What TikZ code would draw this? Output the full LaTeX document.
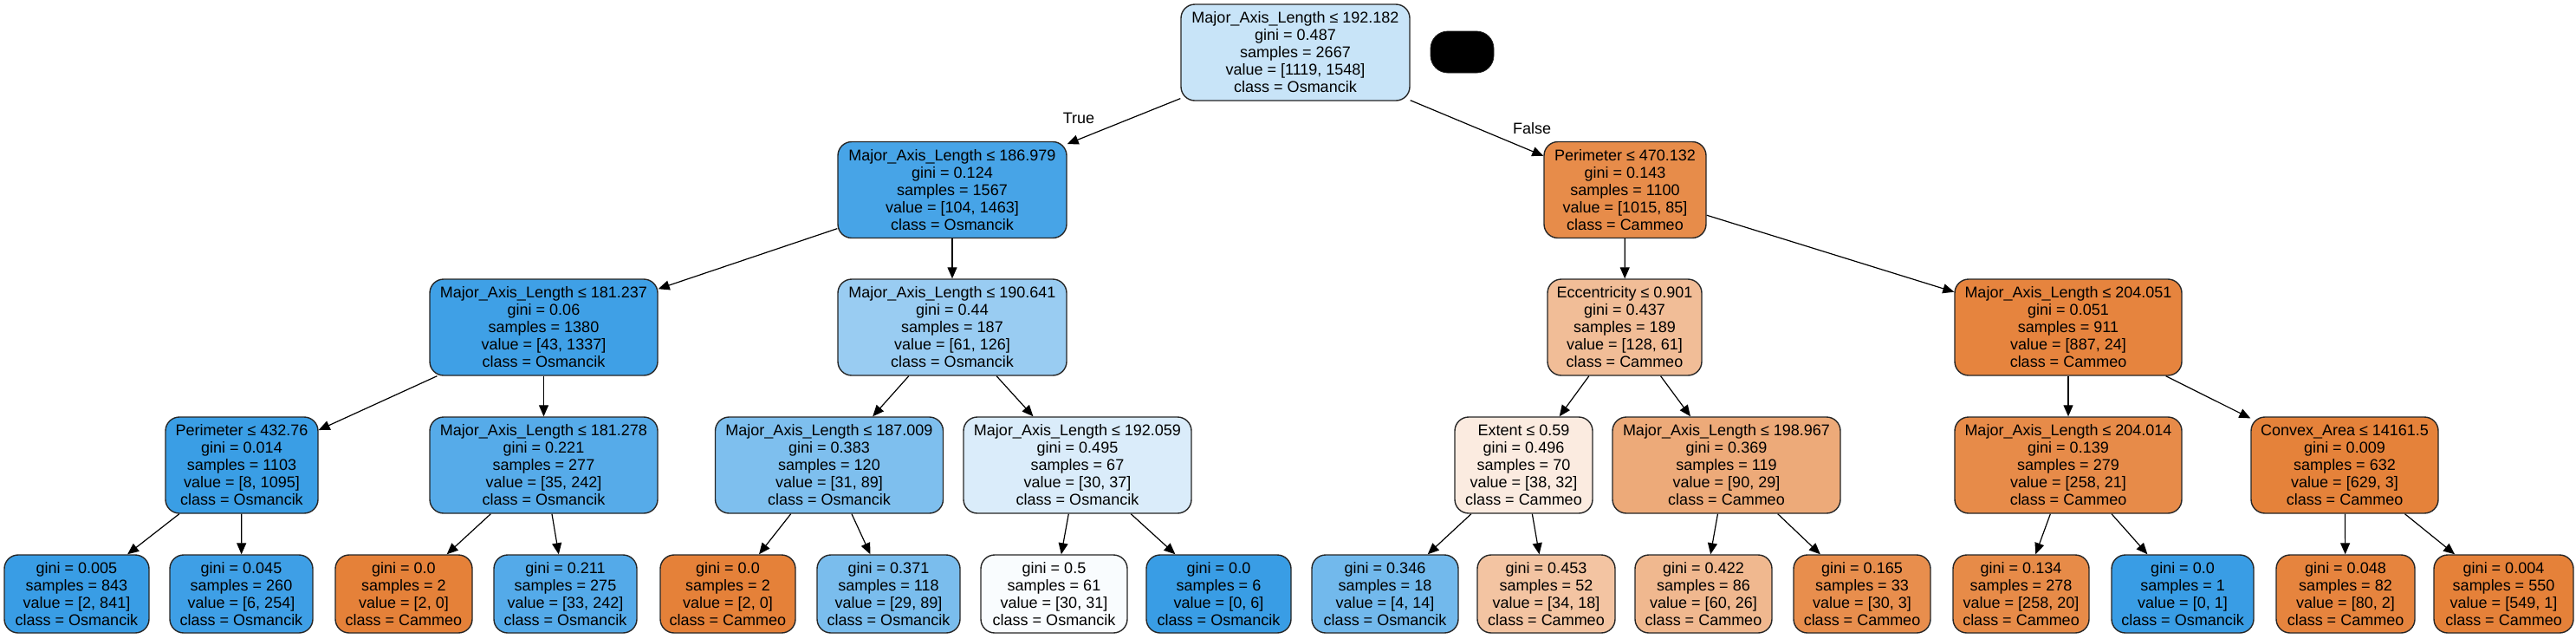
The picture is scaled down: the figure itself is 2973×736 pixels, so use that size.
\documentclass[tikz,border=0pt]{standalone}
\usepackage{fontspec}
\setmainfont{Liberation Sans}
\usetikzlibrary{arrows.meta}
\definecolor{cblue}{HTML}{399DE5}
\definecolor{corange}{HTML}{E58139}
\begin{document}
\begin{tikzpicture}[x=0.5pt,y=-0.5pt,
 tn/.style={draw=black!85, line width=0.7pt, rounded corners=8pt, align=center, inner xsep=2pt, inner ysep=0pt, font=\fontsize{9pt}{10pt}\selectfont, minimum height=55.5pt},
 lf/.style={tn, minimum height=45pt},
 wd/.style={minimum width=0.5pt*#1},
 edge/.style={-{Triangle[length=6.5pt,width=5.5pt]}, line width=0.6pt},
 lbl/.style={font=\fontsize{9pt}{10pt}\selectfont, inner sep=0pt}]
\useasboundingbox (0,0) rectangle (2973,736);
% root
\node[tn, wd=264, fill=cblue!27.7] (n0) at (1495,60.5) {Major\_Axis\_Length ≤ 192.182\\gini = 0.487\\samples = 2667\\value = [1119, 1548]\\class = Osmancik};
\node[fill=black, draw=black!85, rounded corners=10pt, minimum width=36.5pt, minimum height=24pt, inner sep=0pt] (blk) at (1687.5,60) {};
% level 1
\node[tn, wd=264, fill=cblue!92.9] (n1) at (1099,219) {Major\_Axis\_Length ≤ 186.979\\gini = 0.124\\samples = 1567\\value = [104, 1463]\\class = Osmancik};
\node[tn, wd=187, fill=corange!91.6] (n2) at (1875.5,219) {Perimeter ≤ 470.132\\gini = 0.143\\samples = 1100\\value = [1015, 85]\\class = Cammeo};
% level 2
\node[tn, wd=263, fill=cblue!96.8] (a) at (627.5,377.5) {Major\_Axis\_Length ≤ 181.237\\gini = 0.06\\samples = 1380\\value = [43, 1337]\\class = Osmancik};
\node[tn, wd=264, fill=cblue!51.6] (b) at (1099,377.5) {Major\_Axis\_Length ≤ 190.641\\gini = 0.44\\samples = 187\\value = [61, 126]\\class = Osmancik};
\node[tn, wd=178, fill=corange!52.3] (c) at (1875,377.5) {Eccentricity ≤ 0.901\\gini = 0.437\\samples = 189\\value = [128, 61]\\class = Cammeo};
\node[tn, wd=262, fill=corange!97.3] (d) at (2387,377.5) {Major\_Axis\_Length ≤ 204.051\\gini = 0.051\\samples = 911\\value = [887, 24]\\class = Cammeo};
% level 3
\node[tn, wd=176, fill=cblue!99.3] (a1) at (279,536.5) {Perimeter ≤ 432.76\\gini = 0.014\\samples = 1103\\value = [8, 1095]\\class = Osmancik};
\node[tn, wd=263, fill=cblue!85.5] (a2) at (627.5,536.5) {Major\_Axis\_Length ≤ 181.278\\gini = 0.221\\samples = 277\\value = [35, 242]\\class = Osmancik};
\node[tn, wd=263, fill=cblue!65.2] (b1) at (957,536.5) {Major\_Axis\_Length ≤ 187.009\\gini = 0.383\\samples = 120\\value = [31, 89]\\class = Osmancik};
\node[tn, wd=263, fill=cblue!18.9] (b2) at (1243.5,536.5) {Major\_Axis\_Length ≤ 192.059\\gini = 0.495\\samples = 67\\value = [30, 37]\\class = Osmancik};
\node[tn, wd=159, fill=corange!15.8] (c1) at (1758.5,536.5) {Extent ≤ 0.59\\gini = 0.496\\samples = 70\\value = [38, 32]\\class = Cammeo};
\node[tn, wd=263, fill=corange!67.8] (c2) at (1992.5,536.5) {Major\_Axis\_Length ≤ 198.967\\gini = 0.369\\samples = 119\\value = [90, 29]\\class = Cammeo};
\node[tn, wd=262, fill=corange!91.9] (d1) at (2387,536.5) {Major\_Axis\_Length ≤ 204.014\\gini = 0.139\\samples = 279\\value = [258, 21]\\class = Cammeo};
\node[tn, wd=216, fill=corange!99.5] (d2) at (2706,536.5) {Convex\_Area ≤ 14161.5\\gini = 0.009\\samples = 632\\value = [629, 3]\\class = Cammeo};
% leaves
\node[lf, wd=167, fill=cblue!99.8] (l1) at (88.5,685) {gini = 0.005\\samples = 843\\value = [2, 841]\\class = Osmancik};
\node[lf, wd=165, fill=cblue!97.6] (l2) at (278.5,685) {gini = 0.045\\samples = 260\\value = [6, 254]\\class = Osmancik};
\node[lf, wd=158, fill=corange] (l3) at (466,685) {gini = 0.0\\samples = 2\\value = [2, 0]\\class = Cammeo};
\node[lf, wd=165, fill=cblue!86.4] (l4) at (652.5,685) {gini = 0.211\\samples = 275\\value = [33, 242]\\class = Osmancik};
\node[lf, wd=156, fill=corange] (l5) at (840,685) {gini = 0.0\\samples = 2\\value = [2, 0]\\class = Cammeo};
\node[lf, wd=165, fill=cblue!67.4] (l6) at (1025.5,685) {gini = 0.371\\samples = 118\\value = [29, 89]\\class = Osmancik};
\node[lf, wd=169, fill=cblue!3.2] (l7) at (1216.5,685) {gini = 0.5\\samples = 61\\value = [30, 31]\\class = Osmancik};
\node[lf, wd=167, fill=cblue] (l8) at (1406.5,685) {gini = 0.0\\samples = 6\\value = [0, 6]\\class = Osmancik};
\node[lf, wd=169, fill=cblue!71.4] (l9) at (1598.5,685) {gini = 0.346\\samples = 18\\value = [4, 14]\\class = Osmancik};
\node[lf, wd=159, fill=corange!47.1] (l10) at (1784.5,685) {gini = 0.453\\samples = 52\\value = [34, 18]\\class = Cammeo};
\node[lf, wd=158, fill=corange!56.7] (l11) at (1966,685) {gini = 0.422\\samples = 86\\value = [60, 26]\\class = Cammeo};
\node[lf, wd=158, fill=corange!90] (l12) at (2149,685) {gini = 0.165\\samples = 33\\value = [30, 3]\\class = Cammeo};
\node[lf, wd=157, fill=corange!92.2] (l13) at (2332.5,685) {gini = 0.134\\samples = 278\\value = [258, 20]\\class = Cammeo};
\node[lf, wd=164, fill=cblue] (l14) at (2519,685) {gini = 0.0\\samples = 1\\value = [0, 1]\\class = Osmancik};
\node[lf, wd=160, fill=corange!97.5] (l15) at (2707,685) {gini = 0.048\\samples = 82\\value = [80, 2]\\class = Cammeo};
\node[lf, wd=161, fill=corange!99.8] (l16) at (2889.5,685) {gini = 0.004\\samples = 550\\value = [549, 1]\\class = Cammeo};
% labels
\node[lbl] (tlab) at (1245,136) {True};
\node[lbl] (flab) at (1768,148) {False};
% edges
\draw[edge] (n0) -- (n1);
\draw[edge] (n0) -- (n2);
\draw[edge] (n1) -- (a);
\draw[edge] (n1) -- (b);
\draw[edge] (n2) -- (c);
\draw[edge] (n2) -- (d);
\draw[edge] (a) -- (a1);
\draw[edge] (a) -- (a2);
\draw[edge] (b) -- (b1);
\draw[edge] (b) -- (b2);
\draw[edge] (c) -- (c1);
\draw[edge] (c) -- (c2);
\draw[edge] (d) -- (d1);
\draw[edge] (d) -- (d2);
\draw[edge] (a1) -- (l1);
\draw[edge] (a1) -- (l2);
\draw[edge] (a2) -- (l3);
\draw[edge] (a2) -- (l4);
\draw[edge] (b1) -- (l5);
\draw[edge] (b1) -- (l6);
\draw[edge] (b2) -- (l7);
\draw[edge] (b2) -- (l8);
\draw[edge] (c1) -- (l9);
\draw[edge] (c1) -- (l10);
\draw[edge] (c2) -- (l11);
\draw[edge] (c2) -- (l12);
\draw[edge] (d1) -- (l13);
\draw[edge] (d1) -- (l14);
\draw[edge] (d2) -- (l15);
\draw[edge] (d2) -- (l16);
\end{tikzpicture}
\end{document}
